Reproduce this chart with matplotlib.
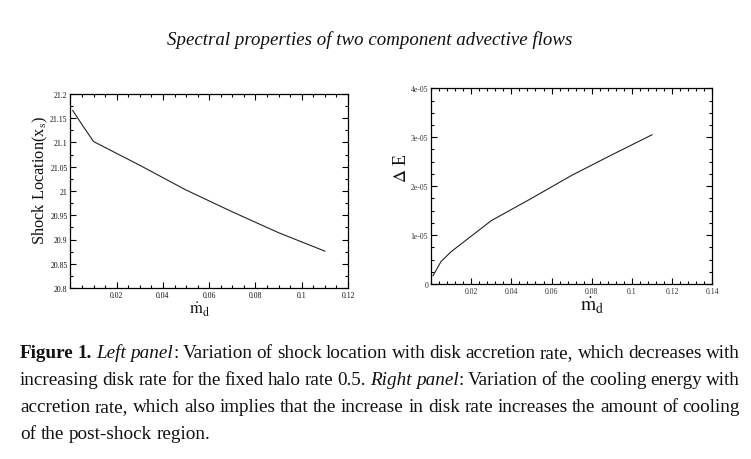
import matplotlib
matplotlib.use("Agg")
import matplotlib.pyplot as plt
from matplotlib.ticker import MultipleLocator, FuncFormatter

plt.rcParams['font.family'] = ['Liberation Serif', 'DejaVu Serif']
plt.rcParams['mathtext.fontset'] = 'stix'

# Data
md_left = [0.001, 0.005, 0.01, 0.03, 0.05, 0.07, 0.09, 0.11]
shock_loc = [21.166, 21.137, 21.102, 21.053, 21.002, 20.957, 20.914, 20.876]
md_right = [0.001, 0.005, 0.01, 0.03, 0.05, 0.07, 0.09, 0.11]
delta_e = [1.7e-6, 4.6e-6, 6.6e-6, 1.295e-5, 1.75e-5, 2.22e-5, 2.64e-5, 3.05e-5]

left_xticks = [0.02, 0.04, 0.06, 0.08, 0.1, 0.12]
left_yticks = [20.8, 20.85, 20.9, 20.95, 21.0, 21.05, 21.1, 21.15, 21.2]
right_xticks = [0.02, 0.04, 0.06, 0.08, 0.1, 0.12, 0.14]
right_yticks = [0, 1e-5, 2e-5, 3e-5, 4e-5]

title = "Spectral properties of two component advective flows"
caption = [
    "#Figure 1.# *Left panel*: Variation of shock location with disk accretion rate, which decreases with",
    "increasing disk rate for the fixed halo rate 0.5. *Right panel*: Variation of the cooling energy with",
    "accretion rate, which also implies that the increase in disk rate increases the amount of cooling",
    "of the post-shock region.",
]

W, H = 751, 460
fig = plt.figure(figsize=(W / 100, H / 100), dpi=100)

def px_axes(x0, y0, x1, y1):
    return fig.add_axes([x0 / W, 1 - y1 / H, (x1 - x0) / W, (y1 - y0) / H])

def style_ax(ax, xminor, yminor, lcolor):
    ax.tick_params(which='both', direction='in', top=True, right=True, width=0.8,
                   labelsize=5.6, pad=2, labelcolor=lcolor)
    ax.tick_params(which='major', length=4)
    ax.tick_params(which='minor', length=2)
    ax.xaxis.set_minor_locator(MultipleLocator(xminor))
    ax.yaxis.set_minor_locator(MultipleLocator(yminor))
    for s in ax.spines.values():
        s.set_linewidth(0.9)

MDOT = r"$\dot{\mathrm{m}}_{\mathrm{d}}$"

# Left panel
ax1 = px_axes(70.4, 95, 348, 289)
ax1.plot(md_left, shock_loc, color='#222222', lw=0.8)
ax1.set_xlim(0, 0.12)
ax1.set_ylim(20.8, 21.2)
ax1.set_xticks(left_xticks)
ax1.set_yticks(left_yticks)
ax1.xaxis.set_major_formatter(FuncFormatter(lambda v, p: f"{v:g}"))
ax1.yaxis.set_major_formatter(FuncFormatter(lambda v, p: f"{v:g}"))
style_ax(ax1, 0.005, 0.025, '#111111')
fig.text(40 / W, 1 - 180 / H, r"Shock Location(x$_{\rm s}$)", fontsize=11.8,
         rotation=90, ha='center', va='center', color='#111111')
fig.text(200 / W, 1 - 301 / H, MDOT, fontsize=12,
         ha='center', va='top', color='#111111')

# Right panel
ax2 = px_axes(431, 89.3, 712.3, 285)
ax2.plot(md_right, delta_e, color='#222222', lw=0.8)
ax2.set_xlim(0, 0.14)
ax2.set_ylim(0, 4e-5)
ax2.set_xticks(right_xticks)
ax2.set_yticks(right_yticks)
ax2.xaxis.set_major_formatter(FuncFormatter(lambda v, p: f"{v:g}"))
ax2.yaxis.set_major_formatter(FuncFormatter(lambda v, p: "0" if v == 0 else f"{v:.0e}"))
ax2.yaxis.get_offset_text().set_visible(False)
style_ax(ax2, 0.004, 0.25e-5, '#333333')
fig.text(401 / W, 1 - 168 / H, r"$\Delta$ E", fontsize=13,
         rotation=90, ha='center', va='center', color='#111111')
fig.text(592 / W, 1 - 296 / H, MDOT, fontsize=14,
         ha='center', va='top', color='#111111')

# Title
fig.text(369.5 / W, 1 - 45 / H, title, fontsize=13.6, style='italic',
         ha='center', va='baseline', color='#111111')

# Caption, justified
renderer = fig.canvas.get_renderer()
x_left, x_right = 20, 740
baselines = [358, 385, 412, 439]
fs = 13.8

def parse(line, state):
    words = []
    for w in line.split(' '):
        pieces = []
        cur = ''
        for ch in w:
            if ch in '*#':
                if cur:
                    pieces.append((cur, dict(state)))
                    cur = ''
                if ch == '*':
                    state['italic'] = not state['italic']
                else:
                    state['bold'] = not state['bold']
            else:
                cur += ch
        if cur:
            pieces.append((cur, dict(state)))
        words.append(pieces)
    return words

state = {'italic': False, 'bold': False}
for i, line in enumerate(caption):
    words = parse(line, state)
    y = 1 - baselines[i] / H
    objs = []
    total = 0
    for pieces in words:
        wobjs = []
        wwidth = 0
        for txt, st in pieces:
            t = fig.text(0, y, txt, fontsize=fs, va='baseline', ha='left', color='#111111',
                         style='italic' if st['italic'] else 'normal',
                         weight='bold' if st['bold'] else 'normal')
            wd = t.get_window_extent(renderer).width
            wobjs.append((t, wd))
            wwidth += wd
        objs.append((wobjs, wwidth))
        total += wwidth
    if i < len(caption) - 1:
        gap = (x_right - x_left - total) / (len(objs) - 1)
    else:
        sp = fig.text(0, 0, 'a a', fontsize=fs)
        sp2 = fig.text(0, 0, 'aa', fontsize=fs)
        gap = sp.get_window_extent(renderer).width - sp2.get_window_extent(renderer).width
        sp.remove(); sp2.remove()
    x = x_left
    for wobjs, wwidth in objs:
        for t, wd in wobjs:
            t.set_x(x / W)
            x += wd
        x += gap

fig.savefig("out.png", dpi=100)
